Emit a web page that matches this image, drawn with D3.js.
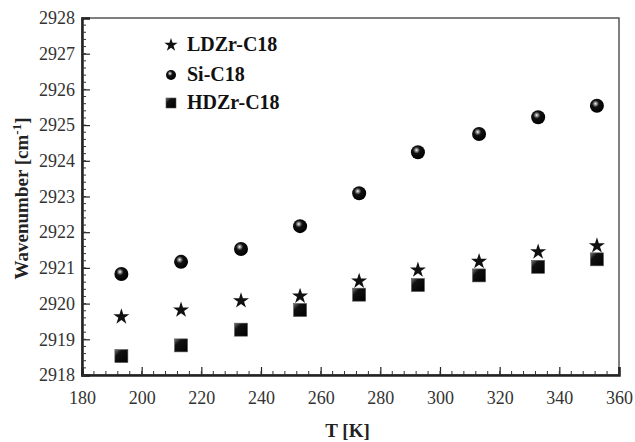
<!DOCTYPE html>
<html>
<head>
<meta charset="utf-8">
<script src="https://cdn.jsdelivr.net/npm/d3@7"></script>
<style>
  body { margin: 0; background: #fff; }
</style>
</head>
<body>
<svg id="chart"></svg>
<script>
// temperatures [K]
const temps = [193.2, 213.2, 233.3, 253.1, 272.9, 292.6, 313.1, 332.9, 352.6];
const ldzr = [2919.63, 2919.82, 2920.08, 2920.21, 2920.63, 2920.94, 2921.18, 2921.45, 2921.62];
const sic18 = [2920.83, 2921.17, 2921.53, 2922.17, 2923.09, 2924.24, 2924.75, 2925.22, 2925.54];
const hdzr = [2918.53, 2918.83, 2919.27, 2919.82, 2920.25, 2920.52, 2920.79, 2921.03, 2921.24];
const xTicks = [180, 200, 220, 240, 260, 280, 300, 320, 340, 360];
const yTicks = [2918, 2919, 2920, 2921, 2922, 2923, 2924, 2925, 2926, 2927, 2928];
const seriesNames = ["LDZr-C18", "Si-C18", "HDZr-C18"];

const FONT = "'Liberation Serif', 'Times New Roman', serif";
const width = 635, height = 442;
const margin = { top: 18, right: 16, bottom: 67, left: 82 };
const innerW = width - margin.left - margin.right;
const innerH = height - margin.top - margin.bottom;

const svg = d3.select("#chart").attr("width", width).attr("height", height);

const defs = svg.append("defs");
const ball = defs.append("radialGradient").attr("id", "ball")
  .attr("cx", "40%").attr("cy", "35%").attr("r", "65%");
ball.append("stop").attr("offset", "0%").attr("stop-color", "#fff");
ball.append("stop").attr("offset", "14%").attr("stop-color", "#999");
ball.append("stop").attr("offset", "38%").attr("stop-color", "#111");
ball.append("stop").attr("offset", "100%").attr("stop-color", "#000");
const box = defs.append("linearGradient").attr("id", "box")
  .attr("x1", "0%").attr("y1", "0%").attr("x2", "100%").attr("y2", "100%");
box.append("stop").attr("offset", "0%").attr("stop-color", "#777");
box.append("stop").attr("offset", "30%").attr("stop-color", "#111");
box.append("stop").attr("offset", "100%").attr("stop-color", "#000");

const g = svg.append("g").attr("transform", `translate(${margin.left},${margin.top})`);

const x = d3.scaleLinear().domain([180, 360]).range([0, innerW]);
const y = d3.scaleLinear().domain([2918, 2928]).range([innerH, 0]);

// frame
g.append("rect").attr("width", innerW).attr("height", innerH)
  .attr("fill", "none").attr("stroke", "#555").attr("stroke-width", 1.5);

// minor ticks
const xMinor = d3.range(180, 360.01, 4);
const yMinor = d3.range(2918, 2928.001, 0.2);

const xAxis = g.append("g").attr("transform", `translate(0,${innerH})`)
  .call(d3.axisBottom(x).tickValues(xTicks).tickSize(-8).tickPadding(16)
    .tickFormat(d3.format("d")));
xAxis.append("g").selectAll("line").data(xMinor).join("line")
  .attr("x1", d => x(d)).attr("x2", d => x(d)).attr("y1", 0).attr("y2", -4)
  .attr("stroke", "#333");

const yAxis = g.append("g")
  .call(d3.axisLeft(y).tickValues(yTicks).tickSize(-8).tickPadding(7)
    .tickFormat(d3.format("d")));
yAxis.append("g").selectAll("line").data(yMinor).join("line")
  .attr("y1", d => y(d)).attr("y2", d => y(d)).attr("x1", 0).attr("x2", 4)
  .attr("stroke", "#333");

[xAxis, yAxis].forEach(a => {
  a.attr("font-family", null);
  a.select(".domain").attr("stroke", "#222").attr("stroke-width", 2.5);
  a.selectAll(".tick line").attr("stroke", "#222").attr("stroke-width", 1.2);
  a.selectAll(".tick text").style("font-size", "18px").style("fill", "#333")
    .style("font-family", FONT);
});

// axis titles
svg.append("text").attr("x", margin.left + innerW / 2 - 3).attr("y", 437)
  .attr("text-anchor", "middle").style("font-family", FONT)
  .style("font-size", "19px").style("font-weight", "bold").style("fill", "#222")
  .text("T [K]");
const yt = svg.append("text")
  .attr("transform", `translate(28,${margin.top + innerH / 2 + 2}) rotate(-90)`)
  .attr("text-anchor", "middle").style("font-family", FONT)
  .style("font-size", "19px").style("font-weight", "bold").style("fill", "#222");
yt.append("tspan").text("Wavenumber [cm");
yt.append("tspan").attr("dy", -7).style("font-size", "13px").text("-1");
yt.append("tspan").attr("dy", 7).text("]");

const star = d3.symbol().type(d3.symbolStar);
const drawStar = (sel, size) => sel.attr("d", star.size(size)()).attr("fill", "#111");
const drawBall = (sel, r) => sel.attr("r", r).attr("fill", "url(#ball)");
const drawBox = (sel, s) => sel.attr("width", s).attr("height", s)
  .attr("fill", "url(#box)").attr("stroke", "#555").attr("stroke-width", 0.6);

// series
g.append("g").selectAll("path").data(temps).join("path")
  .attr("transform", (d, i) => `translate(${x(d)},${y(ldzr[i])})`)
  .call(drawStar, 80);
g.append("g").selectAll("circle").data(temps).join("circle")
  .attr("cx", d => x(d)).attr("cy", (d, i) => y(sic18[i]))
  .call(drawBall, 7);
g.append("g").selectAll("rect").data(temps).join("rect")
  .attr("x", d => x(d) - 6.5).attr("y", (d, i) => y(hdzr[i]) - 6.5)
  .call(drawBox, 13);

// legend
const legend = svg.append("g").attr("transform", "translate(171,45)");
const rowY = [0, 30, 58];
legend.append("path").attr("transform", `translate(0,${rowY[0]})`).call(drawStar, 55);
legend.append("circle").attr("cx", 0).attr("cy", rowY[1]).call(drawBall, 5);
legend.append("rect").attr("x", -5).attr("y", rowY[2] - 5).call(drawBox, 10);
legend.selectAll("text").data(seriesNames).join("text")
  .attr("x", 16).attr("y", (d, i) => rowY[i] + 6)
  .style("font-family", FONT).style("font-size", "20px").style("font-weight", "bold")
  .style("fill", "#111")
  .text(d => d);
</script>
</body>
</html>
